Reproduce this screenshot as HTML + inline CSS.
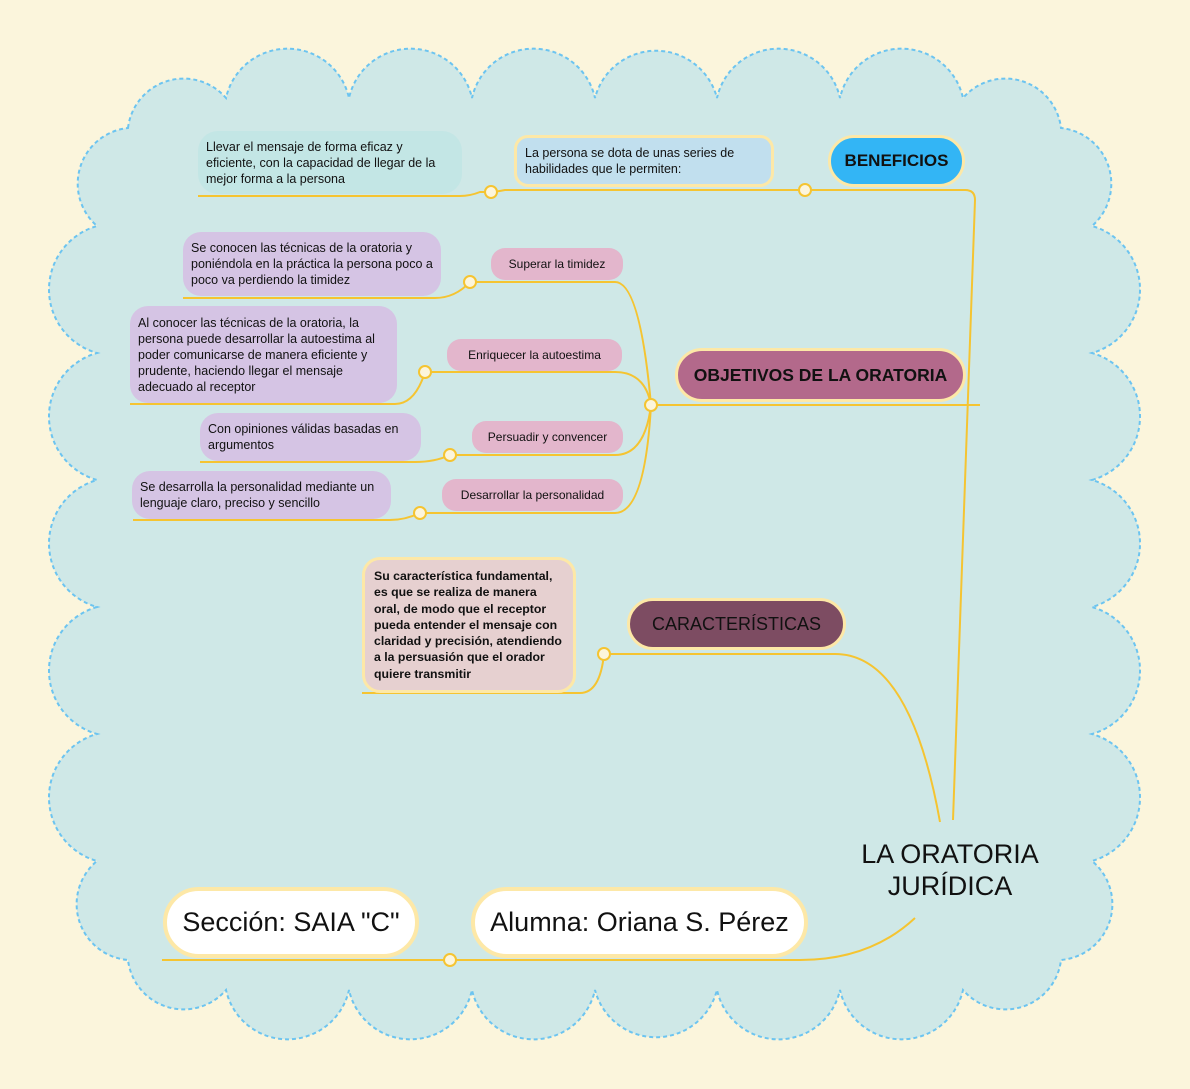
<!DOCTYPE html>
<html><head><meta charset="utf-8"><style>
html,body{margin:0;padding:0}
body{width:1190px;height:1089px;background:#fbf5dc;position:relative;overflow:hidden;font-family:"Liberation Sans",sans-serif;color:#111}
.n{position:absolute;box-sizing:border-box;display:flex;align-items:center;}
.hand{font-family:"Liberation Sans",sans-serif;font-size:12.5px;line-height:16px;padding:0 8px}
svg{position:absolute;left:0;top:0}
</style></head><body>
<svg width="1190" height="1089">
<path d="M128,128 A56,56 0 0 1 226,98 A63,63 0 0 1 349,98 A63,63 0 0 1 472,98 A63,63 0 0 1 595,98 A63,63 0 0 1 717,98 A63,63 0 0 1 840,98 A63,63 0 0 1 963,98 A56,56 0 0 1 1061,128 A56,56 0 0 1 1092,226 A66,66 0 0 1 1092,353 A66,66 0 0 1 1092,480 A66,66 0 0 1 1092,607 A66,66 0 0 1 1092,734 A66,66 0 0 1 1092,861 A56,56 0 0 1 1061,960 A56,56 0 0 1 963,990 A63,63 0 0 1 840,990 A63,63 0 0 1 717,990 A63,63 0 0 1 595,990 A63,63 0 0 1 472,990 A63,63 0 0 1 349,990 A63,63 0 0 1 226,990 A56,56 0 0 1 128,960 A56,56 0 0 1 97,861 A66,66 0 0 1 97,734 A66,66 0 0 1 97,607 A66,66 0 0 1 97,480 A66,66 0 0 1 97,353 A66,66 0 0 1 97,226 A56,56 0 0 1 128,128 Z" fill="#cfe8e7" stroke="#6cc4f0" stroke-width="2" stroke-dasharray="4,3"/>
<g fill="none" stroke="#f5c431" stroke-width="2">
<path d="M953,820 L975,200 Q975,190 965,190 L805,190 L505,190 Q495,192 491,192 L480,192 Q470,196 460,196 L198,196"/>
<path d="M651,405 L980,405"/>
<path d="M651,405 Q640,282 615,282 L470,282 Q455,298 435,298 L183,298"/>
<path d="M651,405 Q645,372 615,372 L425,372 Q415,404 395,404 L130,404"/>
<path d="M651,405 Q645,455 615,455 L450,455 Q435,462 415,462 L200,462"/>
<path d="M651,405 Q645,513 615,513 L420,513 Q405,520 390,520 L133,520"/>
<path d="M940,822 Q910,654 835,654 L604,654 Q600,693 580,693 L362,693"/>
<path d="M915,918 Q870,960 800,960 L162,960"/>
</g>
<g fill="#fcf5dc" stroke="#f5c431" stroke-width="2">
<circle cx="805" cy="190" r="6"/><circle cx="491" cy="192" r="6"/>
<circle cx="651" cy="405" r="6"/><circle cx="470" cy="282" r="6"/>
<circle cx="425" cy="372" r="6"/><circle cx="450" cy="455" r="6"/>
<circle cx="420" cy="513" r="6"/><circle cx="604" cy="654" r="6"/>
<circle cx="450" cy="960" r="6"/>
</g>
</svg>

<div class="n hand" style="left:198px;top:131px;width:264px;height:63px;background:#c3e6e5;border-radius:20px;">Llevar el mensaje de forma eficaz y eficiente, con la capacidad de llegar de la mejor forma a la persona</div>
<div class="n hand" style="left:514px;top:135px;width:260px;height:52px;background:#c1dfee;border:3px solid #fde8a7;border-radius:14px;">La persona se dota de unas series de habilidades que le permiten:</div>
<div class="n" style="left:828px;top:135px;width:137px;height:52px;background:#33b5f5;border:3px solid #fde8a7;border-radius:26px;justify-content:center;font-weight:bold;font-size:17px;">BENEFICIOS</div>

<div class="n hand" style="left:183px;top:232px;width:258px;height:64px;background:#d5c4e4;border-radius:18px;">Se conocen las técnicas de la oratoria y poniéndola en la práctica la persona poco a poco va perdiendo la timidez</div>
<div class="n hand" style="left:130px;top:306px;width:267px;height:97px;background:#d5c4e4;border-radius:18px;">Al conocer las técnicas de la oratoria, la persona puede desarrollar la autoestima al poder comunicarse de manera eficiente y prudente, haciendo llegar el mensaje adecuado al receptor</div>
<div class="n hand" style="left:200px;top:413px;width:221px;height:48px;background:#d5c4e4;border-radius:18px;">Con opiniones válidas basadas en argumentos</div>
<div class="n hand" style="left:132px;top:471px;width:259px;height:48px;background:#d5c4e4;border-radius:18px;">Se desarrolla la personalidad mediante un lenguaje claro, preciso y sencillo</div>

<div class="n hand" style="left:491px;top:248px;width:132px;height:32px;background:#e3b6cc;border-radius:14px;justify-content:center;font-size:12px">Superar la timidez</div>
<div class="n hand" style="left:447px;top:339px;width:175px;height:32px;background:#e3b6cc;border-radius:14px;justify-content:center;font-size:12px">Enriquecer la autoestima</div>
<div class="n hand" style="left:472px;top:421px;width:151px;height:32px;background:#e3b6cc;border-radius:14px;justify-content:center;font-size:12px">Persuadir y convencer</div>
<div class="n hand" style="left:442px;top:479px;width:181px;height:32px;background:#e3b6cc;border-radius:14px;justify-content:center;font-size:12px">Desarrollar la personalidad</div>

<div class="n" style="left:675px;top:348px;width:291px;height:54px;background:#b3698b;border:3px solid #fde8a7;border-radius:27px;justify-content:center;font-weight:bold;font-size:17.5px;">OBJETIVOS DE LA ORATORIA</div>
<div class="n" style="left:627px;top:598px;width:219px;height:52px;background:#7d4c62;border:3px solid #fde8a7;border-radius:26px;justify-content:center;font-size:18px;">CARACTERÍSTICAS</div>
<div class="n" style="left:362px;top:557px;width:214px;height:136px;background:#e6d0d0;border:3px solid #fde8a7;border-radius:18px;padding:0 9px;font-weight:bold;font-size:12.3px;line-height:16.3px;">Su característica fundamental, es que se realiza de manera oral, de modo que el receptor pueda entender el mensaje con claridad y precisión, atendiendo a la persuasión que el orador quiere transmitir</div>

<div class="n" style="left:163px;top:887px;width:256px;height:71px;background:#fff;border:4px solid #fde8a7;border-radius:36px;justify-content:center;font-size:27px;">Sección: SAIA "C"</div>
<div class="n" style="left:471px;top:887px;width:337px;height:71px;background:#fff;border:4px solid #fde8a7;border-radius:36px;justify-content:center;font-size:27px;">Alumna: Oriana S. Pérez</div>

<div style="position:absolute;left:830px;top:838px;width:240px;text-align:center;font-size:27px;line-height:32px;">LA ORATORIA<br>JURÍDICA</div>
</body></html>
